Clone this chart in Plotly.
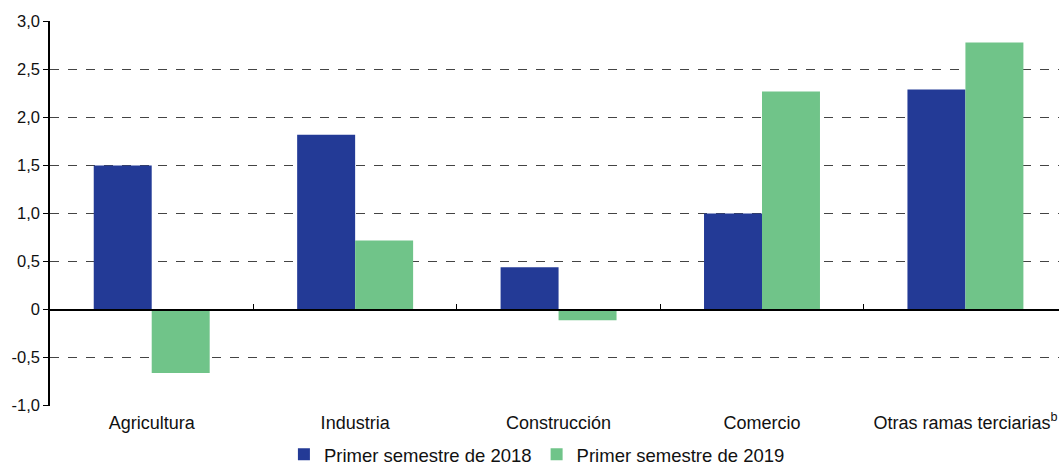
import plotly.graph_objects as go

categories = ["Agricultura", "Industria", "Construcción", "Comercio", "Otras ramas terciarias<sup>b</sup>"]
values_2018 = [1.50, 1.82, 0.44, 1.00, 2.29]
values_2019 = [-0.66, 0.72, -0.11, 2.27, 2.78]
y_ticks = [-1.0, -0.5, 0, 0.5, 1.0, 1.5, 2.0, 2.5, 3.0]
y_ticktext = ["-1,0", "-0,5", "0", "0,5", "1,0", "1,5", "2,0", "2,5", "3,0"]

blue = "#233a96"
green = "#70c489"
font = dict(family="Liberation Sans, Arial", size=18, color="#111")
y_font = dict(family="Liberation Sans, Arial", size=16.5, color="#111")

fig = go.Figure()
fig.add_trace(go.Bar(x=categories, y=values_2018, name="Primer semestre de 2018",
                     marker=dict(color=blue, line=dict(width=0))))
fig.add_trace(go.Bar(x=categories, y=values_2019, name="Primer semestre de 2019",
                     marker=dict(color=green, line=dict(width=0))))

# invisible trace so the zero-line axis with boundary ticks is drawn
fig.add_trace(go.Scatter(x=categories, y=[None] * len(categories), xaxis="x2",
                         showlegend=False, hoverinfo="skip"))

y_min, y_max = -1.003, 3.003
x_range = [-0.5, 4.46]  # last category runs past the right edge in the original

fig.update_layout(
    width=1059, height=465,
    paper_bgcolor="white", plot_bgcolor="white",
    font=font,
    barmode="group", bargap=0.43, bargroupgap=0,
    margin=dict(l=50, r=0, t=21, b=59, autoexpand=False),
    xaxis=dict(range=x_range, showline=False, showgrid=False, ticks="", tickfont=font,
               automargin=False, ticklabelstandoff=4),
    xaxis2=dict(overlaying="x", matches="x", anchor="free",
                position=(0 - y_min) / (y_max - y_min),
                showline=True, linecolor="black", linewidth=1.5,
                ticks="inside", tickson="boundaries", ticklen=5, tickcolor="black",
                showticklabels=False, showgrid=False),
    yaxis=dict(range=[y_min, y_max], tickvals=y_ticks, ticktext=y_ticktext,
               showline=True, linecolor="black", linewidth=1.5,
               ticks="outside", ticklen=5, tickcolor="black",
               showgrid=True, gridcolor="#444", griddash="dash", gridwidth=1,
               zeroline=False, tickfont=y_font, automargin=False, ticklabelstandoff=0),
    legend=dict(orientation="h", xref="container", x=0.507, xanchor="center",
                yref="container", y=0.022, yanchor="middle",
                font=dict(family="Liberation Sans, Arial", size=18.5, color="#111"),
                itemwidth=30),
)

fig.write_html("out.html", config={"displayModeBar": False},
               post_script="document.body.style.margin='0';")
